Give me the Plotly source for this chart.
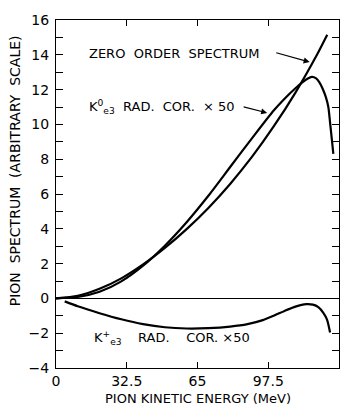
import plotly.graph_objects as go

# Zero order spectrum
energy_zero = [0, 10, 20, 30, 40, 50, 60, 70, 80, 90, 100, 110, 120, 124.6]
spec_zero = [0, 0.15, 0.55, 1.15, 1.95, 2.9, 3.98, 5.2, 6.58, 8.13, 9.88, 11.83, 14.03, 15.15]

# K0 e3 radiative correction x50
energy_k0 = [0, 10, 20, 30, 40, 50, 60, 70, 80, 90, 100, 105, 110, 113, 115.5, 117.5, 119.5, 121, 122.5, 124, 125.1, 125.9, 126.7, 127.4]
spec_k0 = [0, 0.08, 0.38, 0.98, 1.88, 3.03, 4.38, 5.9, 7.55, 9.2, 10.8, 11.48, 12.08, 12.4, 12.62, 12.73, 12.65, 12.42, 12.05, 11.55, 11.0, 10.1, 9.15, 8.3]

# K+ e3 radiative correction x50
energy_kp = [4, 10, 20, 30, 40, 50, 60, 70, 80, 88, 95, 100, 105, 110, 115, 118, 120.5, 122.8, 124.5, 125.9]
spec_kp = [-0.17, -0.45, -0.85, -1.2, -1.48, -1.66, -1.73, -1.71, -1.62, -1.48, -1.25, -1.0, -0.72, -0.47, -0.33, -0.36, -0.5, -0.83, -1.22, -1.96]

x_ticks = [0, 32.5, 65, 97.5, 130]
x_tick_labels = ["0", "32.5", "65", "97.5", "130"]
y_ticks = [-4, -2, 0, 2, 4, 6, 8, 10, 12, 14, 16]

FONT = "DejaVu Sans"
line = dict(color="black", width=2.2, shape="spline", smoothing=0.7)

fig = go.Figure()
fig.add_trace(go.Scatter(x=energy_zero, y=spec_zero, mode="lines", line=line, name="zero"))
fig.add_trace(go.Scatter(x=energy_k0, y=spec_k0, mode="lines", line=line, name="k0"))
fig.add_trace(go.Scatter(x=energy_kp, y=spec_kp, mode="lines", line=line, name="kp"))

fig.update_layout(
    width=352, height=408,
    margin=dict(l=56, r=13, t=14, b=40),
    paper_bgcolor="white", plot_bgcolor="white",
    showlegend=False,
    font=dict(family=FONT, color="black", size=13),
)
fig.update_xaxes(
    range=[0, 130], tickvals=x_ticks, ticktext=x_tick_labels,
    showgrid=False, zeroline=False,
    showline=True, linecolor="black", linewidth=1, mirror="ticks",
    ticks="inside", ticklen=6, tickcolor="black",
    tickfont=dict(size=14, family=FONT),
)
fig.update_yaxes(
    range=[-4, 16], tickvals=y_ticks,
    tickmode="array",
    showgrid=False, zeroline=True, zerolinecolor="black", zerolinewidth=1,
    showline=True, linecolor="black", linewidth=1, mirror="ticks",
    ticks="inside", ticklen=7, tickcolor="black",
    minor=dict(dtick=1, ticks="inside", ticklen=7, tickcolor="black", showgrid=False),
    tickfont=dict(size=14, family=FONT),
    ticklabelstandoff=3,
)

SP = "\u00a0"
ann = []
ann.append(dict(x=14.2, y=14.07, xref="x", yref="y", text="ZERO" + SP * 2 + "ORDER" + SP * 2 + "SPECTRUM",
                showarrow=False, xanchor="left", yanchor="middle", font=dict(size=13)))
ann.append(dict(x=116.5, y=13.58, ax=100.5, ay=14.14, xref="x", yref="y", axref="x", ayref="y",
                text="", showarrow=True, arrowhead=2, arrowsize=1, arrowwidth=1.2, arrowcolor="black"))
ann.append(dict(x=14.2, y=11.0, xref="x", yref="y",
                text="K<sup>0</sup><sub>e3</sub>" + SP * 2 + "RAD." + SP * 2 + "COR." + SP * 2 + "\u00d7" + SP + "50",
                showarrow=False, xanchor="left", yanchor="middle", font=dict(size=13)))
ann.append(dict(x=97.0, y=10.66, ax=85.5, ay=11.03, xref="x", yref="y", axref="x", ayref="y",
                text="", showarrow=True, arrowhead=2, arrowsize=1, arrowwidth=1.2, arrowcolor="black"))
ann.append(dict(x=16.5, y=-2.3, xref="x", yref="y",
                text="K<sup>+</sup><sub>e3</sub>" + SP * 4 + "RAD." + SP * 4 + "COR." + SP + "\u00d7" + "50",
                showarrow=False, xanchor="left", yanchor="middle", font=dict(size=13)))
ann.append(dict(x=-0.145, y=0.568, xref="paper", yref="paper",
                text="PION" + SP * 2 + "SPECTRUM" + SP * 2 + "(ARBITRARY" + SP * 2 + "SCALE)",
                textangle=-90, showarrow=False, xanchor="center", yanchor="middle", font=dict(size=14)))
ann.append(dict(x=0.5, y=-0.0876, xref="paper", yref="paper", text="PION KINETIC ENERGY (MeV)",
                showarrow=False, xanchor="center", yanchor="middle", font=dict(size=13)))
fig.update_layout(annotations=ann)

fig.write_html("out.html")
